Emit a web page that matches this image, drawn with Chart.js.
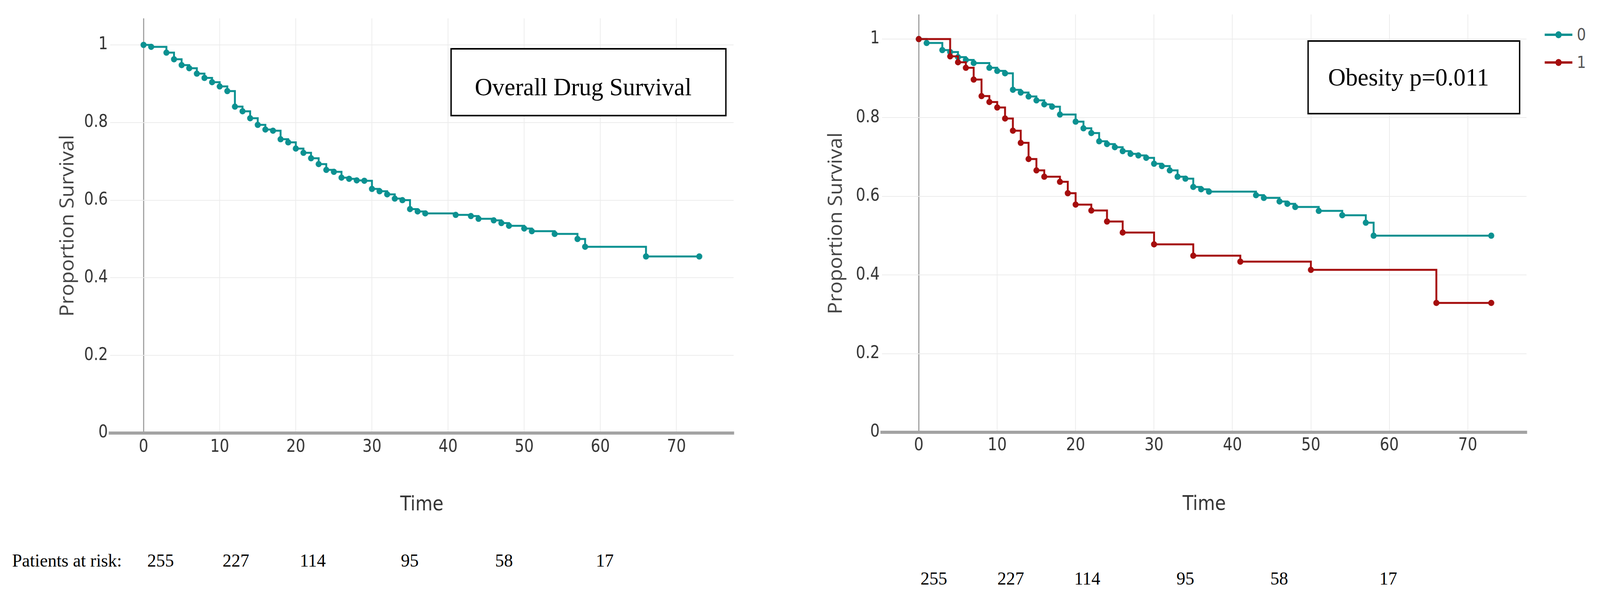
<!DOCTYPE html>
<html>
<head>
<meta charset="utf-8">
<script src="https://cdn.jsdelivr.net/npm/chart.js@4.4.1/dist/chart.umd.min.js"></script>
<style>
  html, body { margin: 0; padding: 0; background: #fff; overflow: hidden; }
  #page { position: absolute; left: 0; top: 0; width: 4225px; height: 1557px; transform-origin: 0 0; background: #fff; }
  .box { position: absolute; }
  .note { position: absolute; box-sizing: border-box; border: 4px solid #000; background: #fff; display: flex; align-items: center; justify-content: center;
          font-family: 'Liberation Serif', serif; font-size: 64px; color: #000; white-space: nowrap; z-index: 2; }
  .risk { position: absolute; transform: translate(-50%, -50%); font-family: 'Liberation Serif', serif; font-size: 47px; color: #000; white-space: nowrap; }
  #legend { position: absolute; left: 4079px; top: 53px; }
  .lg-row { display: flex; align-items: center; height: 71px; }
  .lg-line { position: relative; width: 73px; height: 6px; }
  .lg-line i { position: absolute; left: 28px; top: -6px; width: 17px; height: 18px; border-radius: 50%; }
  .lg-txt { margin-left: 12px; font-family: 'Liberation Sans Narrow', 'DejaVu Sans Condensed', 'Liberation Sans', sans-serif; font-size: 42px; color: #555; }
</style>
</head>
<body>
<div id="page">
  <div class="box" style="left:0;top:0;width:1960px;height:1325px"><canvas id="kmAll"></canvas></div>
  <div class="box" style="left:2100px;top:0;width:1951px;height:1324px"><canvas id="kmObese"></canvas></div>
  <div class="note" style="left:1189px;top:123px;width:730px;height:175px;padding:24px 28px 0 0">Overall Drug Survival</div>
  <div class="note" style="left:3452px;top:103px;width:563px;height:190px;padding-right:28px">Obesity p=0.011</div>
  <div id="legend"></div>
  <div id="risk"></div>
</div>
<script>
'use strict';

// x / y ticks
const X_TICKS = [0, 10, 20, 30, 40, 50, 60, 70];
const Y_TICKS = [0, 0.2, 0.4, 0.6, 0.8, 1];

// overall drug survival (time in months, proportion surviving)
const T_ALL = [0, 1, 3, 4, 5, 6, 7, 8, 9, 10, 11, 12, 13, 14, 15, 16, 17, 18, 19, 20, 21, 22, 23, 24, 25, 26, 27, 28, 29, 30,
  31, 32, 33, 34, 35, 36, 37, 41, 43, 44, 46, 47, 48, 50, 51, 54, 57, 58, 66, 73];
const S_ALL = [1, 0.995, 0.980, 0.963, 0.948, 0.940, 0.926, 0.915, 0.904, 0.893, 0.881, 0.841, 0.829, 0.811, 0.794, 0.782, 0.779,
  0.757, 0.749, 0.733, 0.722, 0.708, 0.693, 0.678, 0.673, 0.658, 0.655, 0.651, 0.650, 0.629, 0.623, 0.615, 0.604, 0.600,
  0.577, 0.571, 0.566, 0.562, 0.559, 0.552, 0.548, 0.541, 0.534, 0.527, 0.520, 0.513, 0.500, 0.480, 0.455, 0.455];

// obesity groups
const GROUPS = ['0', '1'];
const T_0 = [0, 1, 3, 4, 5, 6, 7, 9, 10, 11, 12, 13, 14, 15, 16, 17, 18, 20, 21, 22, 23, 24, 25, 26, 27, 28, 29, 30, 31, 32,
  33, 34, 35, 36, 37, 43, 44, 46, 47, 48, 51, 54, 57, 58, 73];
const S_0 = [1, 0.990, 0.972, 0.967, 0.954, 0.947, 0.939, 0.927, 0.919, 0.913, 0.871, 0.864, 0.854, 0.844, 0.834, 0.828, 0.808,
  0.790, 0.773, 0.761, 0.740, 0.733, 0.725, 0.715, 0.708, 0.704, 0.698, 0.683, 0.677, 0.666, 0.650, 0.645, 0.624, 0.618,
  0.612, 0.603, 0.596, 0.587, 0.581, 0.573, 0.563, 0.552, 0.533, 0.500, 0.500];
const T_1 = [0, 4, 5, 6, 7, 8, 9, 10, 11, 12, 13, 14, 15, 16, 18, 19, 20, 22, 24, 26, 30, 35, 41, 50, 66, 73];
const S_1 = [1, 0.956, 0.941, 0.927, 0.897, 0.855, 0.840, 0.826, 0.798, 0.767, 0.736, 0.695, 0.666, 0.650, 0.637, 0.608,
  0.579, 0.564, 0.536, 0.508, 0.478, 0.449, 0.434, 0.413, 0.329, 0.329];

// patients at risk
const AT_RISK = [255, 227, 114, 95, 58, 17];

const TEAL = '#0b9191';
const RED = '#a50d0d';
const COLORS = [TEAL, RED];

// the window may be narrower than 4225px: stretch the page onto the viewport
const page = document.getElementById('page');
const kx = window.innerWidth / 4225, ky = window.innerHeight / 1557;
if (Math.abs(kx - 1) > 0.001 || Math.abs(ky - 1) > 0.001) page.style.transform = `scale(${kx}, ${ky})`;

const NARROW = "'Liberation Sans Narrow', 'DejaVu Sans Condensed', 'Liberation Sans', sans-serif";
const TICK = { color: '#333', padding: 10, font: { family: NARROW, size: 44 }, callback: v => String(v) };
const GRID = { drawTicks: false, color: '#ececec', lineWidth: 2 };

function pts(ts, ss) { return ts.map((t, i) => ({ x: t, y: ss[i] })); }

function kmSet(label, ts, ss, color, order) {
  return { label, data: pts(ts, ss), stepped: true, borderColor: color, borderWidth: 5, backgroundColor: color,
    pointRadius: 8, pointBorderWidth: 0, pointBackgroundColor: color, order };
}

function buildKM(canvasId, sets, o) {
  return new Chart(document.getElementById(canvasId).getContext('2d'), {
    type: 'line',
    data: { datasets: sets },
    options: {
      responsive: true, maintainAspectRatio: false, animation: false,
      layout: { padding: { left: 0, top: o.padTop, right: o.padRight, bottom: 0 } },
      plugins: { legend: { display: false }, tooltip: { enabled: false } },
      scales: {
        x: {
          type: 'linear', min: o.xMin, max: 77.5,
          afterBuildTicks: s => { s.ticks = X_TICKS.map(v => ({ value: v })); },
          afterFit: s => { s.height = o.xAxisH; },
          grid: { ...GRID, color: c => (c.tick && c.tick.value === 0 ? '#8c8c8c' : '#ececec'), lineWidth: c => (c.tick && c.tick.value === 0 ? 2.5 : 2) },
          border: { display: true, color: '#a3a3a3', width: 8 },
          ticks: { ...TICK, padding: o.xTickPad },
          title: { display: true, text: 'Time', color: '#333', padding: { top: 0, bottom: 0 }, font: { family: NARROW, size: 52 } }
        },
        y: {
          min: 0, max: o.yMax,
          afterBuildTicks: s => { s.ticks = Y_TICKS.map(v => ({ value: v })); },
          afterFit: s => { s.width = o.yAxisW; },
          grid: GRID,
          border: { display: false },
          ticks: { ...TICK, padding: 6 },
          title: { display: true, text: 'Proportion Survival', color: '#444', padding: { top: o.yTitlePad, bottom: 0 },
            font: { family: "'Open Sans', sans-serif", size: 52 } }
        }
      }
    }
  });
}

buildKM('kmAll', [kmSet('Overall', T_ALL, S_ALL, TEAL, 0)],
  { xMin: -4.38, yMax: 1.0684, padTop: 47, padRight: 23, yAxisW: 291, xAxisH: 216, xTickPad: 10, yTitlePad: 148 });

buildKM('kmObese', [kmSet(GROUPS[0], T_0, S_0, TEAL, 1), kmSet(GROUPS[1], T_1, S_1, RED, 0)],
  { xMin: -4.69, yMax: 1.0626, padTop: 37, padRight: 20, yAxisW: 229, xAxisH: 217, xTickPad: 8, yTitlePad: 77 });

// legend for the obesity plot
const legend = document.getElementById('legend');
GROUPS.forEach((g, i) => {
  const row = document.createElement('div');
  row.className = 'lg-row';
  row.innerHTML = `<span class="lg-line" style="background:${COLORS[i]}"><i style="background:${COLORS[i]}"></i></span><span class="lg-txt">${g}</span>`;
  legend.appendChild(row);
});

// patients at risk rows (x centres in page pixels)
const RISK_LEFT_X = [424, 623, 826, 1082, 1331, 1597];
const RISK_RIGHT_X = [2466, 2669, 2871, 3130, 3378, 3666];
const risk = document.getElementById('risk');
function riskText(txt, x, y, left) {
  const d = document.createElement('div');
  d.className = 'risk';
  d.textContent = txt;
  d.style.left = x + 'px';
  d.style.top = y + 'px';
  if (left) d.style.transform = 'translate(0, -50%)';
  risk.appendChild(d);
}
riskText('Patients at risk:', 32, 1435, true);
AT_RISK.forEach((n, i) => riskText(String(n), RISK_LEFT_X[i], 1435));
AT_RISK.forEach((n, i) => riskText(String(n), RISK_RIGHT_X[i], 1481));
</script>
</body>
</html>
